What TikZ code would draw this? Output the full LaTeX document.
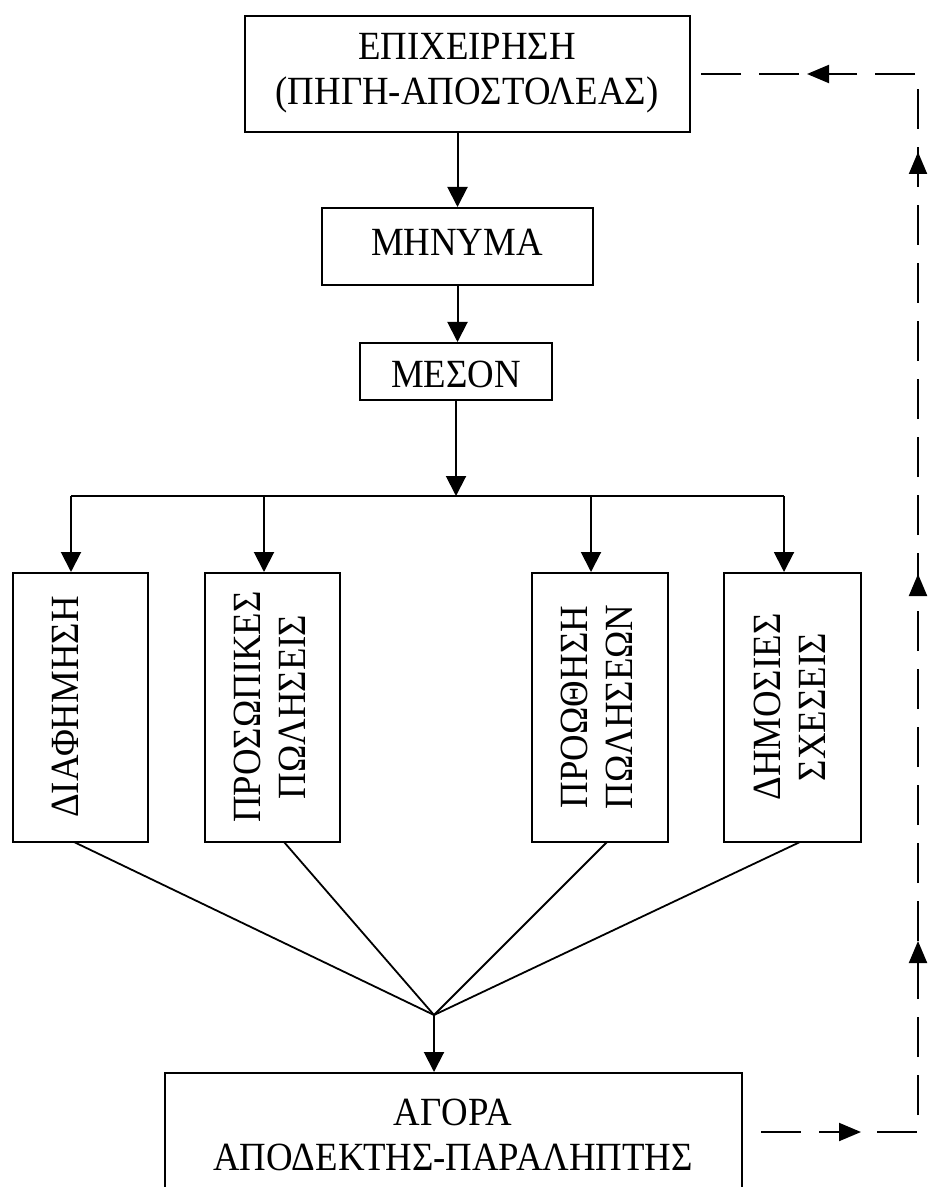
\documentclass[tikz,border=0pt]{standalone}
\usepackage{fontspec}
\setmainfont{Liberation Serif}[FakeStretch=0.92]
\usetikzlibrary{arrows.meta,decorations.markings,calc}

\tikzset{
  fbtip/.tip={Triangle[length=11pt,width=9pt]},
  box/.style={draw, line width=1pt, inner sep=0pt},
  lbl/.style={font=\fontsize{20}{22.5}\selectfont, align=center, inner sep=0pt},
  arr/.style={line width=1pt, -{Triangle[length=10pt,width=10pt]}},
  ln/.style={line width=0.9pt},
  feedback/.style={line width=1pt, dash pattern=on 20pt off 9pt, dash phase=20pt,
    postaction=decorate,
    decoration={markings,
      mark=at position 59pt with {\arrow{fbtip}},
      mark=at position 183pt with {\arrow{fbtip}},
      mark=at position 366.5pt with {\arrow{fbtip}},
      mark=at position 577.5pt with {\arrow{fbtip}},
      mark=at position 672pt with {\arrow{fbtip}}}}
}

\begin{document}
\begin{tikzpicture}[x=0.5pt,y=-0.5pt]
\useasboundingbox (0,0) rectangle (929,1187);
\clip (0,0) rectangle (929,1187);

% top chain
\node[box, minimum width=222.5pt, minimum height=58pt] (src) at (467.5,74) {};
\node[lbl] (srct) at (467,73) {ΕΠΙΧΕΙΡΗΣΗ\\(ΠΗΓΗ-ΑΠΟΣΤΟΛΕΑΣ)};
\node[box, minimum width=135.5pt, minimum height=38.5pt] (msg) at (457.5,246.5) {};
\node[lbl] (msgt) at (457,242) {ΜΗΝΥΜΑ};
\node[box, minimum width=96pt, minimum height=28.5pt] (med) at (456,371.5) {};
\node[lbl] (medt) at (456,374) {ΜΕΣΟΝ};

\draw[arr] (msg.north |- src.south) -- (msg.north);
\draw[arr] (msg.south) -- (msg.south |- med.north);

% distribution bar
\coordinate (bar) at (456,496);
\coordinate (d1) at (71,496);
\coordinate (d2) at (264,496);
\coordinate (d3) at (591,496);
\coordinate (d4) at (784,496);
\draw[arr] (med.south -| bar) -- (bar);
\draw[ln] (d1) -- (d4);

% promotion tools
\node[box, minimum width=67.5pt, minimum height=134.5pt] (b1) at (80,707.5) {};
\node[box, minimum width=67.5pt, minimum height=134.5pt] (b2) at (272.5,707.5) {};
\node[box, minimum width=68pt, minimum height=134.5pt] (b3) at (600,707.5) {};
\node[box, minimum width=68.5pt, minimum height=134.5pt] (b4) at (792.5,707.5) {};
\node[lbl, rotate=90] (b1t) at (65,707) {ΔΙΑΦΗΜΗΣΗ};
\node[lbl, rotate=90] (b2t) at (270,707) {ΠΡΟΣΩΠΙΚΕΣ\\ΠΩΛΗΣΕΙΣ};
\node[lbl, rotate=90] (b3t) at (597,707) {ΠΡΟΩΘΗΣΗ\\ΠΩΛΗΣΕΩΝ};
\node[lbl, rotate=90] (b4t) at (790,707) {ΔΗΜΟΣΙΕΣ\\ΣΧΕΣΕΙΣ};

\draw[arr] (d1) -- (d1 |- b1.north);
\draw[arr] (d2) -- (d2 |- b2.north);
\draw[arr] (d3) -- (d3 |- b3.north);
\draw[arr] (d4) -- (d4 |- b4.north);

% convergence to the market
\coordinate (join) at (434,1015);
\coordinate (e1) at (74,842);
\coordinate (e2) at (284,842);
\coordinate (e3) at (607,842);
\coordinate (e4) at (800,842);
\draw[ln] (e1) -- (join);
\draw[ln] (e2) -- (join);
\draw[ln] (e3) -- (join);
\draw[ln] (e4) -- (join);

\node[box, minimum width=288.5pt, minimum height=59pt] (mkt) at (453.5,1132) {};
\node[lbl] (mktt) at (453,1135) {ΑΓΟΡΑ\\ΑΠΟΔΕΚΤΗΣ-ΠΑΡΑΛΗΠΤΗΣ};
\draw[arr] (join) -- (join |- mkt.north);

% feedback loop
\coordinate (fbb) at (918,1132);
\coordinate (fbt) at (918,74);
\draw[feedback] (mkt.east |- fbb) -- (fbb) -- (fbt) -- (src.east |- fbt);
\end{tikzpicture}
\end{document}
